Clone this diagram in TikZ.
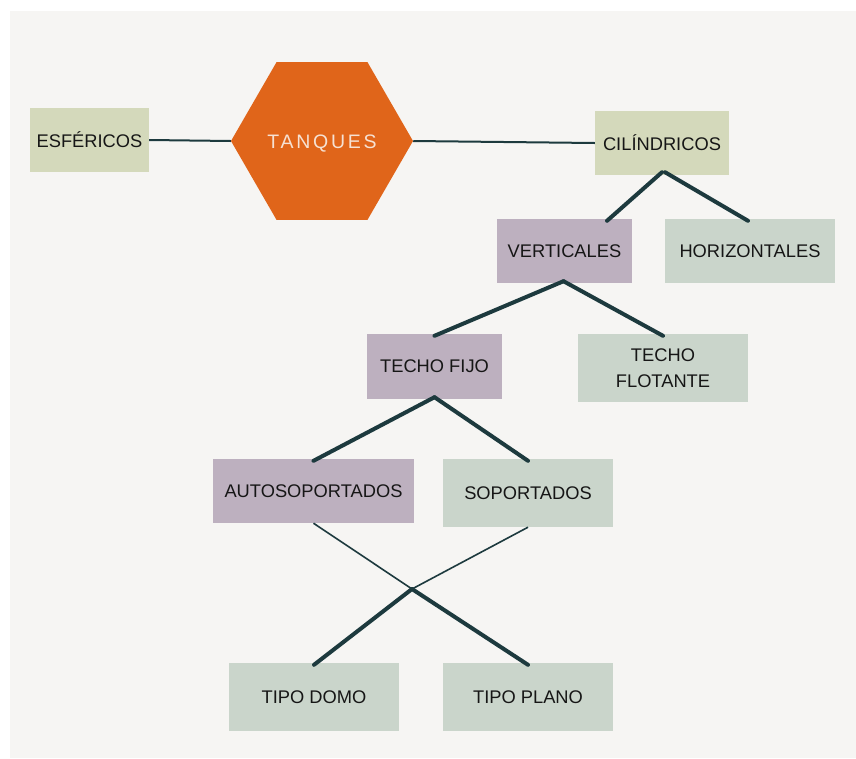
\documentclass[tikz,border=0pt]{standalone}
\usepackage{fontspec}
\setmainfont{Liberation Sans}
\newfontfamily\spacedfont[LetterSpace=14]{Liberation Sans}
\usetikzlibrary{shapes.geometric,calc}
\definecolor{bgc}{HTML}{F6F5F3}
\definecolor{khaki}{HTML}{D4D9BB}
\definecolor{mauve}{HTML}{BDB0BF}
\definecolor{sage}{HTML}{CAD5CB}
\definecolor{orangec}{HTML}{E0651A}
\definecolor{linec}{HTML}{1D3A3E}
\definecolor{txtc}{HTML}{161616}
\definecolor{hextxt}{HTML}{F6E1D3}
\tikzset{
  box/.style={rectangle, inner sep=0pt, text=txtc, align=center,
    font=\fontsize{18.3}{26}\selectfont},
  khakibox/.style={box, fill=khaki},
  mauvebox/.style={box, fill=mauve},
  sagebox/.style={box, fill=sage},
  thinlink/.style={draw=linec, line width=2pt},
  thicklink/.style={draw=linec, line width=4pt, line cap=round},
  finelink/.style={draw=linec, line width=1.6pt},
}
\begin{document}
\begin{tikzpicture}[x=1pt,y=-1pt]
\useasboundingbox[fill=white] (0,0) rectangle (856,758);
\fill[bgc] (10,11) rectangle (856,758);

\node[regular polygon, regular polygon sides=6, minimum size=182pt, inner sep=0pt,
      text height=14pt, text depth=0pt,
      fill=orangec, text=hextxt, font=\spacedfont\fontsize{19.5}{22}\selectfont] (hex) at (322,141) {TANQUES};

\node[khakibox, minimum width=119pt, minimum height=64pt] (esf) at (89.5,140) {ESFÉRICOS};
\node[khakibox, minimum width=134pt, minimum height=64pt] (cil) at (662,143) {CILÍNDRICOS};
\node[mauvebox, minimum width=135pt, minimum height=64pt] (ver) at (564.5,251) {VERTICALES};
\node[sagebox, minimum width=170pt, minimum height=64pt] (hor) at (750,251) {HORIZONTALES};
\node[mauvebox, minimum width=135pt, minimum height=65pt] (fijo) at (434.5,366.5) {TECHO FIJO};
\node[sagebox, minimum width=170pt, minimum height=68pt] (flot) at (663,368) {TECHO\\FLOTANTE};
\node[mauvebox, minimum width=201pt, minimum height=64pt] (auto) at (313.5,491) {AUTOSOPORTADOS};
\node[sagebox, minimum width=170pt, minimum height=68pt] (sop) at (528,493) {SOPORTADOS};
\node[sagebox, minimum width=170pt, minimum height=68pt] (domo) at (314,697) {TIPO DOMO};
\node[sagebox, minimum width=170pt, minimum height=68pt] (plano) at (528,697) {TIPO PLANO};

\draw[thinlink] (esf.east) -- (hex.west);
\draw[thinlink] (hex.east) -- (cil.west);

\draw[thicklink] ([yshift=3pt]cil.south) -- ([xshift=42.5pt,yshift=-2pt]ver.north);
\draw[thicklink] ([xshift=3pt,yshift=3pt]cil.south) -- ([xshift=-2pt,yshift=-2pt]hor.north);
\draw[thicklink] ([xshift=-1pt,yshift=2pt]ver.south) -- ([yshift=-2pt]fijo.north);
\draw[thicklink] ([xshift=-1pt,yshift=2pt]ver.south) -- ([yshift=-2pt]flot.north);
\draw[thicklink] ([yshift=2pt]fijo.south) -- ([yshift=-2pt]auto.north);
\draw[thicklink] ([yshift=2pt]fijo.south) -- ([yshift=-2pt]sop.north);

\coordinate (cross) at (412,589);
\draw[finelink] (auto.south) -- (cross);
\draw[finelink] (sop.south) -- (cross);
\draw[thicklink] (cross) -- ([yshift=-2pt]plano.north);
\draw[thicklink] (cross) -- ([yshift=-2pt]domo.north);
\end{tikzpicture}
\end{document}
